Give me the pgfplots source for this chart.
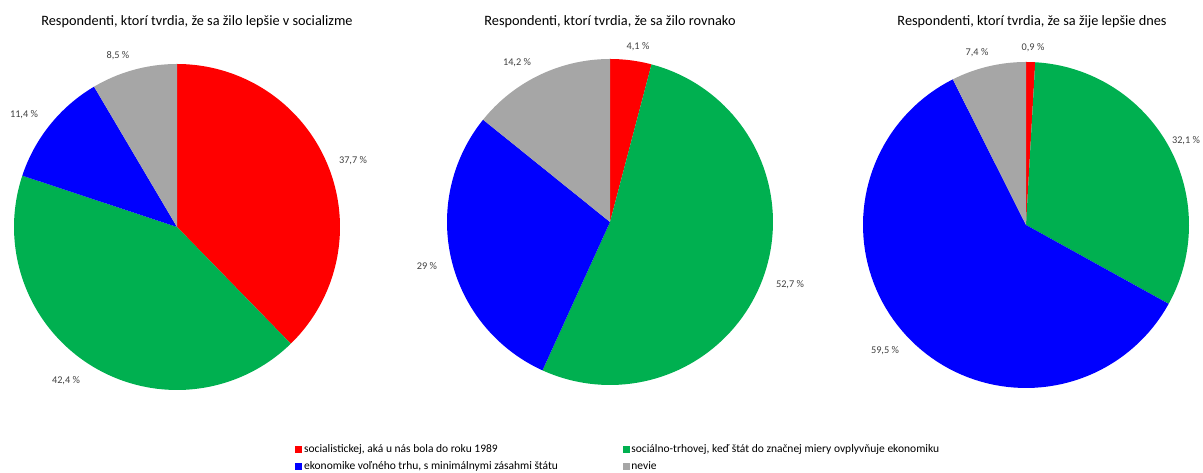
\documentclass[border=0pt]{standalone}
\usepackage{pgfplots}
\pgfplotsset{compat=1.18}
\usepackage{fontspec}
\setmainfont{Carlito}
\definecolor{cred}{HTML}{FF0000}
\definecolor{cgreen}{HTML}{00B050}
\definecolor{cblue}{HTML}{0000FF}
\definecolor{cgray}{HTML}{A6A6A6}
\definecolor{ctext}{HTML}{404040}
\newcommand{\titlefont}{\fontsize{14.3}{16}\selectfont}
\newcommand{\labfont}{\fontsize{10.3}{12}\selectfont}
\newcommand{\legfont}{\fontsize{11.5}{13}\selectfont}
% one slice: cx, cy, r, a_start(smaller), a_end(larger), colour
\newcommand{\slice}[6]{%
  \edef\temp{\noexpand\addplot[forget plot, fill=#6, draw=none, domain=#4:#5, samples=90, variable=\noexpand\t]
    ({#1+#3*cos(\noexpand\t)},{#2+#3*sin(\noexpand\t)}) -- (axis cs:#1,#2) -- cycle;}%
  \temp}
% whole pie: cx, cy (pixel rows), r, four values
\newcommand{\pie}[7]{%
  \pgfmathsetmacro\tot{#4+#5+#6+#7}%
  \pgfmathsetmacro\aB{90-360*(#4/\tot)}%
  \pgfmathsetmacro\aC{\aB-360*(#5/\tot)}%
  \pgfmathsetmacro\aD{\aC-360*(#6/\tot)}%
  \pgfmathsetmacro\cyy{473-#2}%
  \slice{#1}{\cyy}{#3}{\aB}{90}{cred}%
  \slice{#1}{\cyy}{#3}{\aC}{\aB}{cgreen}%
  \slice{#1}{\cyy}{#3}{\aD}{\aC}{cblue}%
  \slice{#1}{\cyy}{#3}{-270}{\aD}{cgray}%
}
\begin{document}
\begin{tikzpicture}
\begin{axis}[
  name=ax,
  scale only axis, width=1203pt, height=473pt,
  xmin=0, xmax=1203, ymin=0, ymax=473,
  hide axis, clip=false,
  legend columns=2,
  legend cell align=left,
  legend style={at={(axis cs:295,15)}, anchor=west, draw=none, fill=none,
    font=\legfont, text=black, inner sep=0pt, row sep=4.5pt,
    nodes={inner xsep=2.5pt, inner ysep=1.5pt},
    /tikz/every even column/.append style={column sep=62pt}},
]
% Respondenti: socialistickej, socialno-trhovej, volneho trhu, nevie
\pie{177}{227}{163}{37.7}{42.4}{11.4}{8.5}
\pie{610}{222}{163}{4.1}{52.7}{29}{14.2}
\pie{1026}{225}{163}{0.9}{32.1}{59.5}{7.4}

\addlegendimage{legend image code/.code={\fill[cred] (0pt,-3pt) rectangle (6pt,3pt);}}
\addlegendentry{socialistickej, aká u nás bola do roku 1989}
\addlegendimage{legend image code/.code={\fill[cgreen] (0pt,-3pt) rectangle (6pt,3pt);}}
\addlegendentry{sociálno-trhovej, keď štát do značnej miery ovplyvňuje ekonomiku}
\addlegendimage{legend image code/.code={\fill[cblue] (0pt,-3pt) rectangle (6pt,3pt);}}
\addlegendentry{ekonomike voľného trhu, s minimálnymi zásahmi štátu}
\addlegendimage{legend image code/.code={\fill[cgray] (0pt,-3pt) rectangle (6pt,3pt);}}
\addlegendentry{nevie}

% titles
\node[font=\titlefont, text=black] at (axis cs:197,451) {Respondenti, ktorí tvrdia, že sa žilo lepšie v socializme};
\node[font=\titlefont, text=black] at (axis cs:610,451) {Respondenti, ktorí tvrdia, že sa žilo rovnako};
\node[font=\titlefont, text=black] at (axis cs:1032,451) {Respondenti, ktorí tvrdia, že sa žije lepšie dnes};
% data labels
\node[font=\labfont, text=ctext] at (axis cs:353,{473-161}) {37,7 \%};
\node[font=\labfont, text=ctext] at (axis cs:66,{473-381}) {42,4 \%};
\node[font=\labfont, text=ctext] at (axis cs:24,{473-115}) {11,4 \%};
\node[font=\labfont, text=ctext] at (axis cs:118,{473-56}) {8,5 \%};
\node[font=\labfont, text=ctext] at (axis cs:638,{473-47}) {4,1 \%};
\node[font=\labfont, text=ctext] at (axis cs:790,{473-285}) {52,7 \%};
\node[font=\labfont, text=ctext] at (axis cs:427,{473-266}) {29 \%};
\node[font=\labfont, text=ctext] at (axis cs:517,{473-63}) {14,2 \%};
\node[font=\labfont, text=ctext] at (axis cs:1033,{473-48}) {0,9 \%};
\node[font=\labfont, text=ctext] at (axis cs:1186,{473-141}) {32,1 \%};
\node[font=\labfont, text=ctext] at (axis cs:885,{473-351}) {59,5 \%};
\node[font=\labfont, text=ctext] at (axis cs:977,{473-53}) {7,4 \%};
\end{axis}
\pgfresetboundingbox
\path (ax.south west) rectangle (ax.north east);
\end{tikzpicture}
\end{document}
